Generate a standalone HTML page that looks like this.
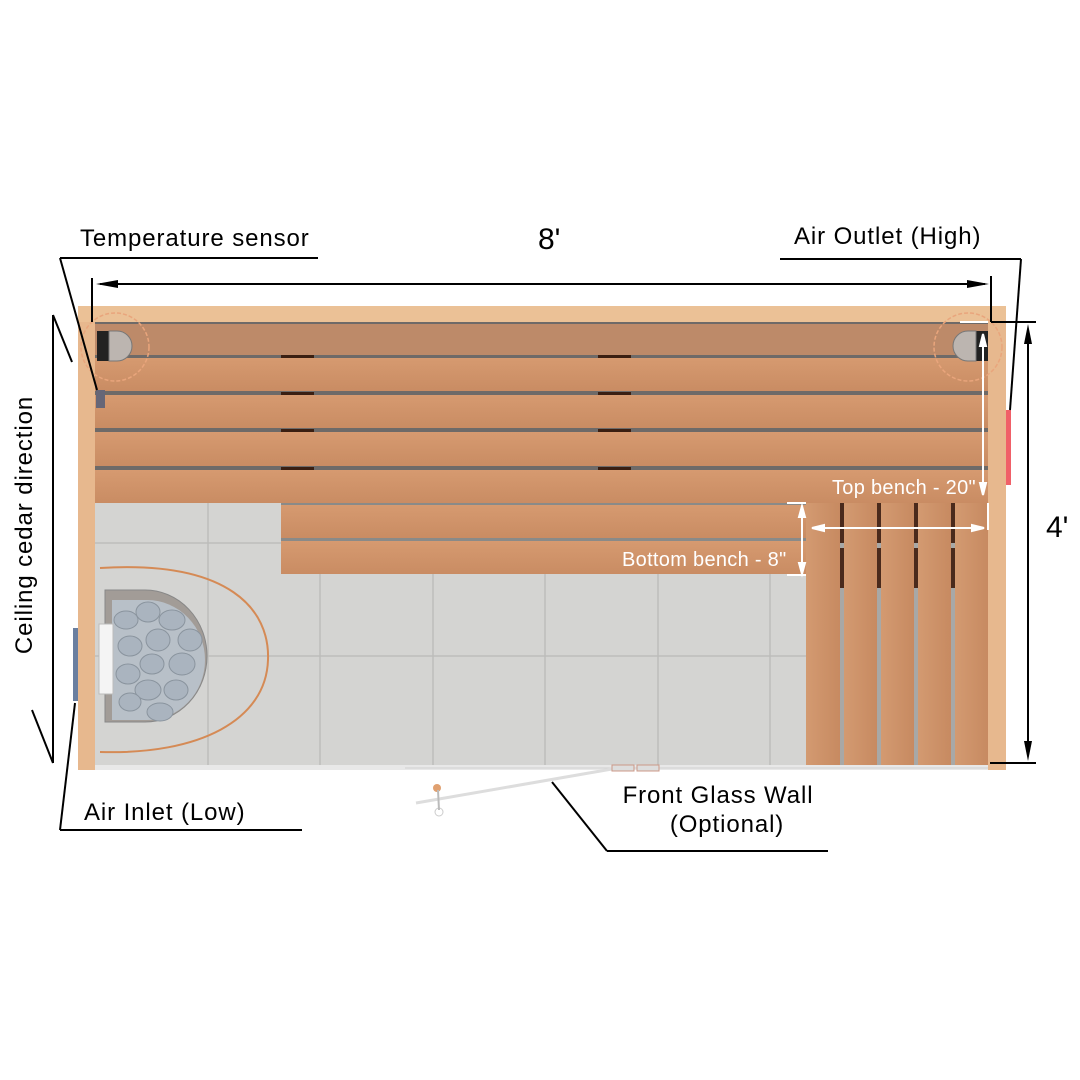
<!DOCTYPE html>
<html><head><meta charset="utf-8"><style>
html,body{margin:0;padding:0;background:#fff;}
svg{display:block}
text{font-family:"Liberation Sans",Arial,sans-serif;}
</style></head><body>
<svg width="1080" height="1080" viewBox="0 0 1080 1080" xmlns="http://www.w3.org/2000/svg">
<defs>
<linearGradient id="wood" x1="0" y1="0" x2="0" y2="1"><stop offset="0" stop-color="#d69a70"/><stop offset="1" stop-color="#c98c63"/></linearGradient>
<linearGradient id="vwood" x1="0" y1="0" x2="1" y2="0"><stop offset="0" stop-color="#d39a71"/><stop offset="1" stop-color="#c78a61"/></linearGradient>
</defs>
<rect x="78" y="306" width="928" height="464" fill="#e7b88e"/>
<rect x="78" y="306" width="928" height="16" fill="#ebc196"/>
<rect x="95" y="322" width="893" height="443" fill="#cfcfcf"/>
<rect x="95" y="503" width="711" height="262" fill="#d4d4d2"/>
<g stroke="#bdbdbb" stroke-width="1.5">
<line x1="208" y1="503" x2="208" y2="765"/><line x1="320" y1="503" x2="320" y2="765"/><line x1="433" y1="503" x2="433" y2="765"/><line x1="545" y1="503" x2="545" y2="765"/><line x1="658" y1="503" x2="658" y2="765"/><line x1="770" y1="503" x2="770" y2="765"/>
<line x1="95" y1="543" x2="806" y2="543"/><line x1="95" y1="656" x2="806" y2="656"/>
</g>
<rect x="95" y="322" width="893" height="181" fill="#6e6a68"/>
<rect x="95" y="324" width="893" height="31" fill="#bd8a69"/>
<rect x="95" y="358" width="893" height="33" fill="url(#wood)"/>
<rect x="95" y="395" width="893" height="33" fill="url(#wood)"/>
<rect x="95" y="432" width="893" height="34" fill="url(#wood)"/>
<rect x="95" y="470" width="893" height="33" fill="url(#wood)"/>
<g fill="#3a1f12">
<rect x="281" y="355" width="33" height="3"/><rect x="598" y="355" width="33" height="3"/>
<rect x="281" y="392" width="33" height="3"/><rect x="598" y="392" width="33" height="3"/>
<rect x="281" y="429" width="33" height="3"/><rect x="598" y="429" width="33" height="3"/>
<rect x="281" y="467" width="33" height="3"/><rect x="598" y="467" width="33" height="3"/>
</g>
<circle cx="115" cy="347" r="34" fill="none" stroke="#e9a57c" stroke-width="1.5" stroke-dasharray="4 2"/>
<rect x="97" y="331" width="12" height="30" fill="#222"/>
<path d="M109 331 h8 a15 15 0 0 1 0 30 h-8z" fill="#bcb5b0" stroke="#777"/>
<circle cx="968" cy="347" r="34" fill="none" stroke="#e9a57c" stroke-width="1.5" stroke-dasharray="4 2"/>
<rect x="976" y="331" width="12" height="30" fill="#222"/>
<path d="M976 331 h-8 a15 15 0 0 0 0 30 h8z" fill="#bcb5b0" stroke="#777"/>
<rect x="96" y="390" width="9" height="18" fill="#667"/>
<rect x="281" y="503" width="525" height="71" fill="#8a8a88"/>
<rect x="281" y="505" width="525" height="33" fill="url(#wood)"/>
<rect x="281" y="541" width="525" height="33" fill="url(#wood)"/>
<!-- vertical bench -->
<rect x="806" y="503" width="182" height="262" fill="#a8a8a6"/>
<g fill="#4a2a1c"><rect x="840" y="503" width="4" height="40"/><rect x="877" y="503" width="4" height="40"/><rect x="914" y="503" width="4" height="40"/><rect x="951" y="503" width="4" height="40"/>
<rect x="840" y="548" width="4" height="40"/><rect x="877" y="548" width="4" height="40"/><rect x="914" y="548" width="4" height="40"/><rect x="951" y="548" width="4" height="40"/></g>
<rect x="806" y="503" width="34" height="262" fill="url(#vwood)"/>
<rect x="844" y="503" width="33" height="262" fill="url(#vwood)"/>
<rect x="881" y="503" width="33" height="262" fill="url(#vwood)"/>
<rect x="918" y="503" width="33" height="262" fill="url(#vwood)"/>
<rect x="955" y="503" width="33" height="262" fill="url(#vwood)"/>
<path d="M100 568 C230 560 270 610 268 660 C266 720 200 755 100 752" fill="none" stroke="#d58a55" stroke-width="2"/>
<path d="M105 590 h40 a62 66 0 0 1 0 132 h-40z" fill="#a29c97" stroke="#888"/>
<path d="M112 600 h35 a58 60 0 0 1 0 120 h-35z" fill="#b8c0c8"/>
<g fill="#aab4bf" stroke="#8a949e" stroke-width="1">
<ellipse cx="126" cy="620" rx="12" ry="9"/><ellipse cx="148" cy="612" rx="12" ry="10"/><ellipse cx="172" cy="620" rx="13" ry="10"/><ellipse cx="190" cy="640" rx="12" ry="11"/>
<ellipse cx="130" cy="646" rx="12" ry="10"/><ellipse cx="158" cy="640" rx="12" ry="11"/><ellipse cx="182" cy="664" rx="13" ry="11"/><ellipse cx="152" cy="664" rx="12" ry="10"/>
<ellipse cx="128" cy="674" rx="12" ry="10"/><ellipse cx="148" cy="690" rx="13" ry="10"/><ellipse cx="176" cy="690" rx="12" ry="10"/><ellipse cx="160" cy="712" rx="13" ry="9"/><ellipse cx="130" cy="702" rx="11" ry="9"/>
</g>
<rect x="99" y="624" width="14" height="70" fill="#f4f4f4" stroke="#bbb"/>
<rect x="73" y="628" width="5" height="73" fill="#6a7fa0"/>
<rect x="1006" y="410" width="5" height="75" fill="#f06068"/>
<rect x="95" y="765" width="893" height="5" fill="#e8e8e8"/>
<line x1="405" y1="768" x2="988" y2="768" stroke="#d0d0d0" stroke-width="1"/>
<line x1="416" y1="803" x2="612" y2="769" stroke="#ddd" stroke-width="3"/>
<circle cx="437" cy="788" r="4" fill="#e0a070"/><circle cx="439" cy="812" r="4" fill="#fff" stroke="#ccc"/>
<line x1="438" y1="790" x2="439" y2="810" stroke="#bbb" stroke-width="2"/>
<rect x="612" y="765" width="22" height="6" fill="#ddd" stroke="#c98" /><rect x="637" y="765" width="22" height="6" fill="#ddd" stroke="#c98"/>
<g stroke="#fff" stroke-width="2" fill="#fff">
<line x1="983" y1="334" x2="983" y2="495"/><line x1="960" y1="322" x2="988" y2="322"/>
<path d="M983 334 l-3 12 h6z"/><path d="M983 495 l-3 -12 h6z"/>
<line x1="812" y1="528" x2="984" y2="528"/><line x1="988" y1="503" x2="988" y2="530"/>
<path d="M812 528 l12 -3 v6z"/><path d="M984 528 l-12 -3 v6z"/>
<line x1="802" y1="506" x2="802" y2="574"/>
<line x1="787" y1="503" x2="806" y2="503"/><line x1="787" y1="575" x2="806" y2="575"/>
<path d="M802 506 l-3 11 h6z"/><path d="M802 574 l-3 -11 h6z"/>
</g>
<text x="832" y="494" font-size="20" fill="#fff" letter-spacing="0.3">Top bench - 20"</text>
<text x="622" y="566" font-size="20" fill="#fff" letter-spacing="0.3">Bottom bench - 8"</text>
<g stroke="#000" stroke-width="2" fill="none">
<line x1="60" y1="258" x2="318" y2="258"/><line x1="60" y1="258" x2="97" y2="390"/>
<line x1="92" y1="278" x2="92" y2="322"/>
<line x1="100" y1="284" x2="985" y2="284"/>
<line x1="780" y1="259" x2="1021" y2="259"/><line x1="1021" y1="259" x2="1010" y2="410"/>
<line x1="991" y1="276" x2="991" y2="322"/><line x1="991" y1="322" x2="1036" y2="322"/>
<line x1="1028" y1="330" x2="1028" y2="755"/>
<line x1="990" y1="763" x2="1036" y2="763"/>
<line x1="53" y1="315" x2="53" y2="763"/><line x1="53" y1="315" x2="72" y2="362"/><line x1="53" y1="763" x2="32" y2="710"/>
<line x1="75" y1="703" x2="60" y2="830"/><line x1="60" y1="830" x2="302" y2="830"/>
<line x1="552" y1="782" x2="607" y2="851"/><line x1="607" y1="851" x2="828" y2="851"/>
</g>
<path d="M96 284 l22 -4 v8z" fill="#000"/>
<path d="M989 284 l-22 -4 v8z" fill="#000"/>
<path d="M1028 324 l-4 20 h8z" fill="#000"/>
<path d="M1028 761 l-4 -20 h8z" fill="#000"/>
<text x="80" y="246" font-size="24" fill="#000" letter-spacing="0.9">Temperature sensor</text>
<text x="538" y="249" font-size="30" fill="#000">8'</text>
<text x="794" y="244" font-size="24" fill="#000" letter-spacing="0.9">Air Outlet (High)</text>
<text x="1046" y="537" font-size="30" fill="#000">4'</text>
<text x="84" y="820" font-size="24" fill="#000" letter-spacing="0.9">Air Inlet (Low)</text>
<text x="718" y="803" font-size="24" fill="#000" text-anchor="middle" letter-spacing="0.9">Front Glass Wall</text>
<text x="727" y="832" font-size="24" fill="#000" text-anchor="middle" letter-spacing="0.9">(Optional)</text>
<text transform="translate(32,525) rotate(-90)" font-size="24" fill="#000" text-anchor="middle" letter-spacing="0.9">Ceiling cedar direction</text>
</svg>
</body></html>
